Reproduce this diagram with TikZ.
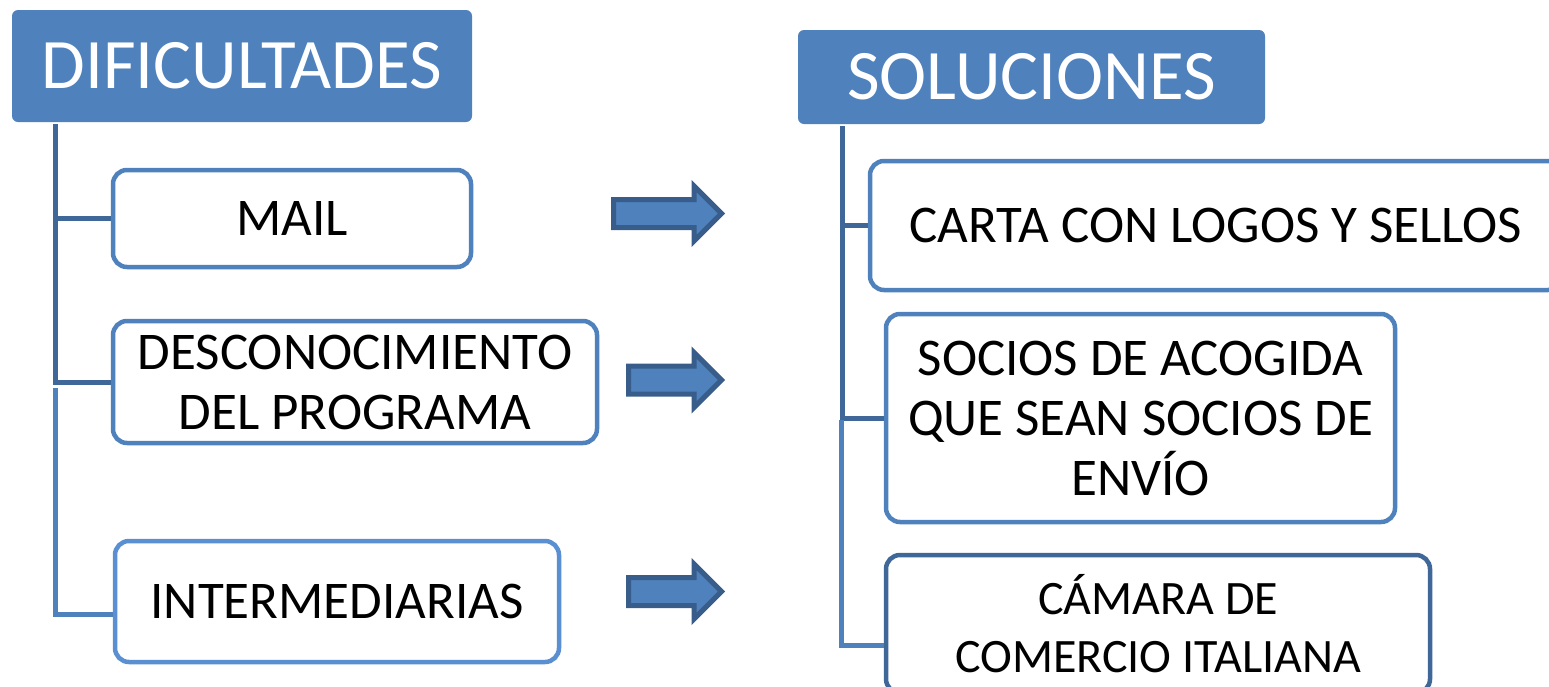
\documentclass[tikz,border=0pt]{standalone}
\usepackage{fontspec}
\setmainfont{Carlito}
\usetikzlibrary{shapes.arrows}

\definecolor{tema}{HTML}{4F81BD}
\definecolor{temaosc}{HTML}{3F6797}
\definecolor{temaclaro}{HTML}{5A8FD2}
\definecolor{flechaborde}{HTML}{385D8A}

\begin{document}
\begin{tikzpicture}[x=1pt,y=-1pt,
    titulo/.style={fill=tema,rounded corners=6pt,text=white,inner sep=0pt,
        font=\fontsize{71}{80}\selectfont},
    caja/.style={draw=tema,line width=4.5pt,rounded corners=14pt,fill=white,
        align=center,inner sep=0pt,font=\fontsize{53}{60}\selectfont},
    rama/.style={line width=5pt,draw=temaosc},
    flecha/.style={single arrow,fill=tema,draw=flechaborde,line width=5pt,
        inner sep=11.5pt,single arrow head extend=13.5pt}]
    \useasboundingbox (0,0) rectangle (1549,686);
    \clip (0,0) rectangle (1549,686);

    % titulos
    \node [titulo,minimum width=460pt,minimum height=112pt] (dif) at (242,66) {DIFICULTADES};
    \node [titulo,minimum width=467pt,minimum height=94pt] (sol) at (1031.5,77) {SOLUCIONES};

    % dificultades
    \node [caja,minimum width=358pt,minimum height=97pt] (mail) at (292,218.5) {MAIL};
    \node [caja,minimum width=484pt,minimum height=122pt] (desc) at (355,382) {DESCONOCIMIENTO\\DEL PROGRAMA};
    \node [caja,draw=temaclaro,minimum width=444pt,minimum height=121pt] (inter) at (337,601.5) {INTERMEDIARIAS};

    % soluciones
    \node [caja,minimum width=692pt,minimum height=129pt] (carta) at (1216,225.5) {CARTA CON LOGOS Y SELLOS};
    \node [caja,minimum width=509pt,minimum height=208pt] (socios) at (1140.5,418) {SOCIOS DE ACOGIDA\\QUE SEAN SOCIOS DE\\ENVÍO};
    \node [caja,draw=temaosc,minimum width=544pt,minimum height=138pt,
        font=\fontsize{48}{58}\selectfont] (camara) at (1158,624) {CÁMARA DE\\COMERCIO ITALIANA};

    % flechas
    \node [flecha,minimum height=108pt] (f1) at (660.5,213.5) {};
    \node [flecha,minimum height=93pt] (f2) at (668,380) {};
    \node [flecha,minimum height=93pt] (f3) at (668,591.5) {};

    % ramas izquierda
    \coordinate (izqA) at (55,124);
    \coordinate (izqB) at (55,388);
    \coordinate (izqC) at (55,614);
    \draw [rama] (izqA) |- (desc.west) (izqA |- mail.west) -- (mail.west);
    \draw [rama,draw=tema] (izqB) -- (izqC) -- (izqC -| inter.west);

    % ramas derecha
    \coordinate (derA) at (842,126);
    \coordinate (derB) at (841,420);
    \coordinate (derC) at (841,645);
    \draw [rama] (derA) |- (socios.west) (derA |- carta.west) -- (carta.west);
    \draw [rama,draw=tema] (derB) -- (derC) -- (derC -| camara.west);
\end{tikzpicture}
\end{document}
